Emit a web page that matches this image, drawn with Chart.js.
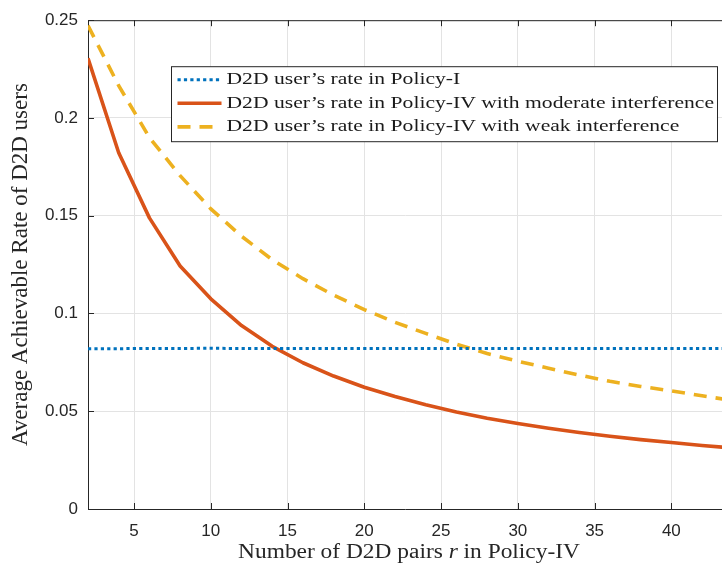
<!DOCTYPE html>
<html>
<head>
<meta charset="utf-8">
<script src="https://cdn.jsdelivr.net/npm/chart.js@4/dist/chart.umd.min.js"></script>
<style>
html,body{margin:0;padding:0;background:#ffffff;overflow:hidden}
#wrap{position:relative;width:722px;height:566px}
</style>
</head>
<body>
<div id="wrap"><canvas id="c"></canvas></div>
<script>
// ---------- data ----------
const R_VALUES = [2, 4, 6, 8, 10, 12, 14, 16, 18, 20, 22, 24, 26, 28, 30, 32, 34, 36, 38, 40, 42, 44];
const POLICY_I = [0.0819, 0.0820, 0.0821, 0.0821, 0.0822, 0.0821, 0.0821, 0.0821, 0.0821, 0.0821, 0.0821,
                  0.0821, 0.0821, 0.0821, 0.0821, 0.0821, 0.0821, 0.0821, 0.0821, 0.0821, 0.0821, 0.0821];
const POLICY_IV_MODERATE = [0.2305, 0.1822, 0.1489, 0.1243, 0.1075, 0.0938, 0.0832, 0.0748, 0.0680, 0.0623, 0.0575,
                            0.0533, 0.0496, 0.0464, 0.0437, 0.0413, 0.0391, 0.0372, 0.0355, 0.0340, 0.0325, 0.0312];
const POLICY_IV_WEAK = [0.2473, 0.2165, 0.1900, 0.1705, 0.1535, 0.1395, 0.1275, 0.1178, 0.1094, 0.1020, 0.0955,
                        0.0898, 0.0843, 0.0795, 0.0756, 0.0720, 0.0685, 0.0653, 0.0627, 0.0604, 0.0579, 0.0555];
const SERIES_LABELS = [
  'D2D user\u2019s rate in Policy-I',
  'D2D user\u2019s rate in Policy-IV with moderate interference',
  'D2D user\u2019s rate in Policy-IV with weak interference'
];
const X_TICKS = [5, 10, 15, 20, 25, 30, 35, 40];
const Y_TICKS = [0, 0.05, 0.1, 0.15, 0.2, 0.25];
const X_RANGE = [2, 43.3];
const Y_RANGE = [0, 0.25];
const X_TITLE_PARTS = [['Number of D2D pairs ', false], ['r', true], [' in Policy-IV', false]];
const Y_TITLE = 'Average Achievable Rate of D2D users';

// ---------- styling ----------
const INK = '#262626';
const GRID = '#e3e3e3';
const SERIF = '"Liberation Serif", "Times New Roman", serif';
const SANS = '"Liberation Sans", Arial, sans-serif';

function pts(ys) { return R_VALUES.map((r, i) => ({ x: r, y: ys[i] })); }

const frameAndLegend = {
  id: 'frameAndLegend',
  afterDatasetsDraw(chart) {
    const { ctx, chartArea: a, scales: { x, y } } = chart;
    ctx.save();
    // top border + inward ticks (MATLAB style)
    ctx.strokeStyle = INK;
    ctx.lineWidth = 1;
    ctx.setLineDash([]);
    ctx.beginPath();
    ctx.moveTo(a.left, a.top + 0.5);
    ctx.lineTo(a.right, a.top + 0.5);
    const tl = 6;
    X_TICKS.forEach(v => {
      const px = Math.round(x.getPixelForValue(v)) + 0.5;
      ctx.moveTo(px, a.bottom); ctx.lineTo(px, a.bottom - tl);
      ctx.moveTo(px, a.top); ctx.lineTo(px, a.top + tl);
    });
    Y_TICKS.forEach(v => {
      const py = Math.round(y.getPixelForValue(v)) + 0.5;
      ctx.moveTo(a.left, py); ctx.lineTo(a.left + tl, py);
    });
    ctx.stroke();

    // legend box
    const bx = a.left + 83.5, by = a.top + 46.5, bw = 546, bh = 75;
    ctx.fillStyle = '#ffffff';
    ctx.fillRect(bx, by, bw, bh);
    ctx.strokeStyle = INK;
    ctx.lineWidth = 1;
    ctx.strokeRect(bx, by, bw, bh);
    chart.data.datasets.forEach((ds, i) => {
      const ry = by + 13 + i * 23.6;
      ctx.save();
      ctx.strokeStyle = ds.borderColor;
      ctx.lineWidth = ds.borderWidth;
      ctx.setLineDash(ds.borderDash || []);
      ctx.lineCap = 'butt';
      ctx.beginPath();
      ctx.moveTo(bx + 6, ry);
      ctx.lineTo(bx + 50, ry);
      ctx.stroke();
      ctx.restore();
      ctx.save();
      ctx.fillStyle = '#1a1a1a';
      ctx.font = '16.5px ' + SERIF;
      ctx.textBaseline = 'middle';
      ctx.textAlign = 'left';
      ctx.translate(bx + 55, ry);
      ctx.scale(1.31, 1);
      ctx.fillText(ds.label, 0, 0);
      ctx.restore();
    });

    // x-axis title with italic r
    const parts = X_TITLE_PARTS.map(([t, it]) => ({ t, font: (it ? 'italic ' : '') + '20px ' + SERIF }));
    let total = 0;
    parts.forEach(p => { ctx.font = p.font; p.w = ctx.measureText(p.t).width; total += p.w; });
    const sx = 1.17;
    ctx.save();
    ctx.translate((x.left + x.right) / 2 + 4, 557.5);
    ctx.scale(sx, 1);
    ctx.fillStyle = INK;
    ctx.textBaseline = 'alphabetic';
    ctx.textAlign = 'left';
    let cx = -total / 2;
    parts.forEach(p => { ctx.font = p.font; ctx.fillText(p.t, cx, 0); cx += p.w; });
    ctx.restore();
    ctx.restore();
  }
};

new Chart(document.getElementById('c'), {
  type: 'line',
  data: {
    datasets: [
      { label: SERIES_LABELS[0], data: pts(POLICY_I), borderColor: '#0072BD', borderWidth: 3,
        borderDash: [3.2, 3.2], pointRadius: 0, fill: false, tension: 0 },
      { label: SERIES_LABELS[1], data: pts(POLICY_IV_MODERATE), borderColor: '#D95319', borderWidth: 3.6,
        pointRadius: 0, fill: false, tension: 0, borderJoinStyle: 'round' },
      { label: SERIES_LABELS[2], data: pts(POLICY_IV_WEAK), borderColor: '#EDB120', borderWidth: 3.6,
        borderDash: [13, 9], pointRadius: 0, fill: false, tension: 0 }
    ]
  },
  options: {
    responsive: true,
    maintainAspectRatio: false,
    animation: false,
    devicePixelRatio: 1,
    layout: { padding: { top: 15, right: 0, left: 0, bottom: 0 } },
    plugins: { legend: { display: false }, tooltip: { enabled: false } },
    scales: {
      x: {
        type: 'linear',
        min: X_RANGE[0], max: X_RANGE[1],
        afterBuildTicks: s => { s.ticks = X_TICKS.map(v => ({ value: v })); },
        afterFit: s => { s.height = 57; },
        ticks: { color: INK, font: { family: SANS, size: 17 }, padding: 12, maxRotation: 0, autoSkip: false,
                 callback: v => String(v) },
        grid: { color: GRID, lineWidth: 1, drawTicks: false },
        border: { display: true, color: INK, width: 1 },
        title: { display: false }
      },
      y: {
        type: 'linear',
        min: Y_RANGE[0], max: Y_RANGE[1],
        afterBuildTicks: s => { s.ticks = Y_TICKS.map(v => ({ value: v })); },
        afterFit: s => { s.width = 88; },
        ticks: { color: INK, font: { family: SANS, size: 17 }, padding: 10, autoSkip: false,
                 callback: v => String(v) },
        grid: { color: GRID, lineWidth: 1, drawTicks: false },
        border: { display: true, color: INK, width: 1 },
        title: { display: true, text: Y_TITLE, color: INK, font: { family: SERIF, size: 23 },
                 padding: { top: 7, bottom: 0 } }
      }
    }
  },
  plugins: [frameAndLegend]
});
</script>
</body>
</html>
